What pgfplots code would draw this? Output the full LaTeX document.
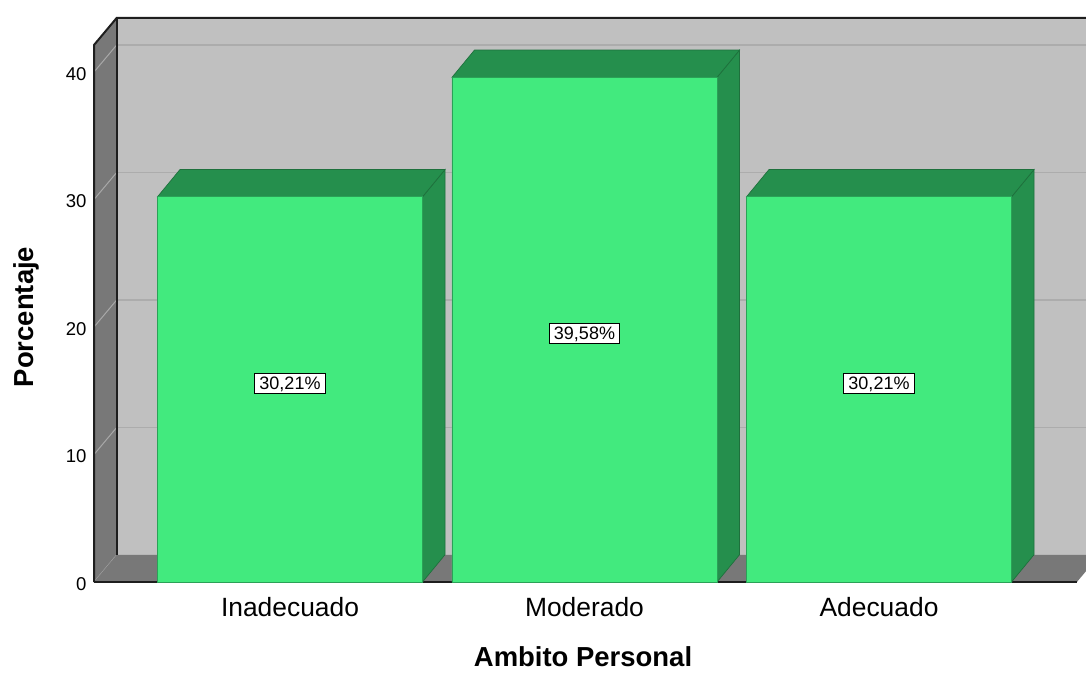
\documentclass[border=0pt]{standalone}
\usepackage{fontspec}
\setmainfont{Liberation Sans}
\usepackage{pgfplots}
\pgfplotsset{compat=1.18}

\definecolor{barfront}{RGB}{66,234,126}
\definecolor{barside}{RGB}{37,143,77}
\definecolor{baredge}{RGB}{30,112,60}
\definecolor{wallback}{RGB}{192,192,192}
\definecolor{walldark}{RGB}{120,120,120}
\definecolor{gridback}{RGB}{172,172,172}
\definecolor{gridwall}{RGB}{168,168,168}
\definecolor{edgedark}{RGB}{30,30,30}

\begin{document}
\begin{tikzpicture}
\begin{axis}[
  x=220.875pt, y=9.5625pt,
  xmin=-1.675, xmax=1.703, ymin=-0.3, ymax=44.5,
  axis line style={draw=none},
  tick style={draw=none},
  major tick length=0pt,
  xtick={-1,0,1},
  xticklabels={Inadecuado,Moderado,Adecuado},
  ytick={0,10,20,30,40},
  /pgf/number format/assume math mode=true,
  yticklabel style={font=\fontsize{13.9}{16}\selectfont, yshift=-1.5pt},
  xticklabel style={font=\fontsize{19.8}{22}\selectfont, yshift=-4.8pt},
  xlabel={Ambito Personal},
  ylabel={Porcentaje},
  xlabel style={at={(axis description cs:0.4944,-0.1410)}, anchor=base,
    inner sep=0pt, font=\bfseries\fontsize{20.6}{24}\selectfont},
  ylabel style={at={(axis description cs:-0.065,0.4706)}, anchor=center,
    font=\bfseries\fontsize{20.6}{24}\selectfont},
  clip=true,
]
% back wall
\addplot[fill=wallback, draw=none] coordinates
  {(-1.5885,2.12) (1.76,2.12) (1.76,44.24) (-1.5885,44.24)} -- cycle;
% gridlines on the back wall
\addplot[gridback, line width=1pt] coordinates {(-1.5885,12.12) (1.76,12.12)};
\addplot[gridback, line width=1pt] coordinates {(-1.5885,22.12) (1.76,22.12)};
\addplot[gridback, line width=1pt] coordinates {(-1.5885,32.12) (1.76,32.12)};
\addplot[gridback, line width=1pt] coordinates {(-1.5885,42.12) (1.76,42.12)};
\addplot[gray!80, line width=0.7pt] coordinates {(-1.5885,2.12) (1.76,2.12)};
% left wall
\addplot[fill=walldark, draw=none] coordinates
  {(-1.6655,0) (-1.5885,2.12) (-1.5885,44.24) (-1.6655,42.12)} -- cycle;
% gridlines on the left wall
\addplot[gridwall, line width=0.75pt] coordinates {(-1.6655,0) (-1.5885,2.12)};
\addplot[gridwall, line width=0.75pt] coordinates {(-1.6655,10) (-1.5885,12.12)};
\addplot[gridwall, line width=0.75pt] coordinates {(-1.6655,20) (-1.5885,22.12)};
\addplot[gridwall, line width=0.75pt] coordinates {(-1.6655,30) (-1.5885,32.12)};
\addplot[gridwall, line width=0.75pt] coordinates {(-1.6655,40) (-1.5885,42.12)};
% floor
\addplot[fill=walldark, draw=none] coordinates
  {(-1.6655,0) (1.672,0) (1.749,2.12) (-1.5885,2.12)} -- cycle;
% wall edges
\addplot[edgedark, line width=1.5pt] coordinates {(-1.6655,0) (-1.6655,42.12) (-1.5885,44.24) (1.76,44.24)};
\addplot[edgedark, line width=1.5pt] coordinates {(-1.5885,2.12) (-1.5885,44.24)};
\addplot[edgedark, line width=1.5pt] coordinates {(-1.6655,0) (1.672,0)};

% bars: side faces
\addplot[fill=barside, draw=baredge, line width=0.5pt] coordinates
  {(-0.55,0) (-0.55,30.21) (-0.4736,32.35) (-0.4736,2.14)} -- cycle;
\addplot[fill=barside, draw=baredge, line width=0.5pt] coordinates
  {(0.45,0) (0.45,39.58) (0.5264,41.72) (0.5264,2.14)} -- cycle;
\addplot[fill=barside, draw=baredge, line width=0.5pt] coordinates
  {(1.45,0) (1.45,30.21) (1.5264,32.35) (1.5264,2.14)} -- cycle;
% bars: top faces
\addplot[fill=barside, draw=baredge, line width=0.5pt] coordinates
  {(-1.45,30.21) (-0.55,30.21) (-0.4736,32.35) (-1.3736,32.35)} -- cycle;
\addplot[fill=barside, draw=baredge, line width=0.5pt] coordinates
  {(-0.45,39.58) (0.45,39.58) (0.5264,41.72) (-0.3736,41.72)} -- cycle;
\addplot[fill=barside, draw=baredge, line width=0.5pt] coordinates
  {(0.55,30.21) (1.45,30.21) (1.5264,32.35) (0.6264,32.35)} -- cycle;
% bars: front faces
\addplot[ybar, bar width=0.9, fill=barfront, draw=barside!80!barfront, line width=0.5pt]
  coordinates {(-1,30.21) (0,39.58) (1,30.21)};

% value labels
\tikzset{vlab/.style={draw=black, fill=white, line width=1pt,
  inner xsep=3.6pt, inner ysep=1.7pt, text height=9.8pt, text depth=1.5pt,
  font=\fontsize{13.5}{15}\selectfont}}
\node[vlab] at (axis cs:-1,15.57) {30,21\%};
\node[vlab] at (axis cs:0,19.49) {39,58\%};
\node[vlab] at (axis cs:1,15.57) {30,21\%};

\coordinate (bbSW) at (axis cs:-1.98472,-7.1373);
\coordinate (bbNE) at (axis cs:1.70289,45.647);
\end{axis}
\pgfresetboundingbox
\path[use as bounding box] (bbSW) rectangle (bbNE);
\end{tikzpicture}
\end{document}
